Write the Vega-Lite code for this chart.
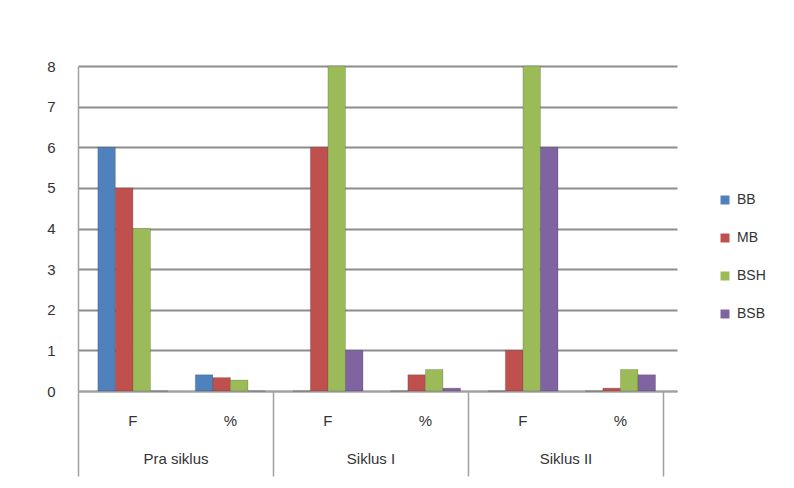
{
  "$schema": "https://vega.github.io/schema/vega-lite/v6.json",
  "width": 599,
  "height": 325,
  "autosize": {"type": "none"},
  "padding": {"left": 78, "top": 66, "right": 117, "bottom": 97},
  "background": "white",
  "config": {"font": "Liberation Sans", "view": {"stroke": null}},
  "data": {
    "values": [
      {"grp": "Pra siklus", "cat": "Pra siklus|F", "series": "BB", "value": 6},
      {"grp": "Pra siklus", "cat": "Pra siklus|F", "series": "MB", "value": 5},
      {"grp": "Pra siklus", "cat": "Pra siklus|F", "series": "BSH", "value": 4},
      {"grp": "Pra siklus", "cat": "Pra siklus|F", "series": "BSB", "value": 0},
      {"grp": "Pra siklus", "cat": "Pra siklus|%", "series": "BB", "value": 0.4},
      {"grp": "Pra siklus", "cat": "Pra siklus|%", "series": "MB", "value": 0.33},
      {"grp": "Pra siklus", "cat": "Pra siklus|%", "series": "BSH", "value": 0.27},
      {"grp": "Pra siklus", "cat": "Pra siklus|%", "series": "BSB", "value": 0},
      {"grp": "Siklus I", "cat": "Siklus I|F", "series": "BB", "value": 0},
      {"grp": "Siklus I", "cat": "Siklus I|F", "series": "MB", "value": 6},
      {"grp": "Siklus I", "cat": "Siklus I|F", "series": "BSH", "value": 8},
      {"grp": "Siklus I", "cat": "Siklus I|F", "series": "BSB", "value": 1},
      {"grp": "Siklus I", "cat": "Siklus I|%", "series": "BB", "value": 0},
      {"grp": "Siklus I", "cat": "Siklus I|%", "series": "MB", "value": 0.4},
      {"grp": "Siklus I", "cat": "Siklus I|%", "series": "BSH", "value": 0.53},
      {"grp": "Siklus I", "cat": "Siklus I|%", "series": "BSB", "value": 0.07},
      {"grp": "Siklus II", "cat": "Siklus II|F", "series": "BB", "value": 0},
      {"grp": "Siklus II", "cat": "Siklus II|F", "series": "MB", "value": 1},
      {"grp": "Siklus II", "cat": "Siklus II|F", "series": "BSH", "value": 8},
      {"grp": "Siklus II", "cat": "Siklus II|F", "series": "BSB", "value": 6},
      {"grp": "Siklus II", "cat": "Siklus II|%", "series": "BB", "value": 0},
      {"grp": "Siklus II", "cat": "Siklus II|%", "series": "MB", "value": 0.07},
      {"grp": "Siklus II", "cat": "Siklus II|%", "series": "BSH", "value": 0.53},
      {"grp": "Siklus II", "cat": "Siklus II|%", "series": "BSB", "value": 0.4}
    ]
  },
  "layer": [
    {
      "mark": {"type": "bar", "stroke": "#00000033", "strokeWidth": 0.8},
      "encoding": {
        "x": {
          "field": "cat", "type": "nominal",
          "sort": ["Pra siklus|F", "Pra siklus|%", "Siklus I|F", "Siklus I|%", "Siklus II|F", "Siklus II|%"],
          "scale": {"paddingInner": 0.28, "paddingOuter": 0.2118, "align": 0.48},
          "axis": {
            "title": null, "labelExpr": "split(datum.value, '|')[1]", "labelAngle": 0,
            "ticks": false, "labelPadding": 22, "domainColor": "#a0a0a0", "domainWidth": 1.5,
            "labelFontSize": 15, "labelColor": "#333333"
          }
        },
        "xOffset": {"field": "series", "type": "nominal", "sort": ["BB", "MB", "BSH", "BSB"]},
        "y": {
          "field": "value", "type": "quantitative",
          "scale": {"domain": [0, 8], "nice": false},
          "axis": {
            "title": null, "values": [0, 1, 2, 3, 4, 5, 6, 7, 8], "grid": true, "gridColor": "#8c8c8c",
            "gridWidth": 2, "domainColor": "#a0a0a0", "domainWidth": 1.5, "ticks": false,
            "labelPadding": 23, "labelFontSize": 15, "labelColor": "#333333"
          }
        },
        "color": {
          "field": "series", "type": "nominal", "sort": ["BB", "MB", "BSH", "BSB"],
          "scale": {"domain": ["BB", "MB", "BSH", "BSB"], "range": ["#4F81BD", "#C0504D", "#9BBB59", "#8064A2"]},
          "legend": {
            "title": null, "orient": "none", "legendX": 640, "legendY": 127,
            "symbolType": "square", "symbolSize": 81, "labelFontSize": 14, "rowPadding": 24,
            "labelColor": "#333333", "symbolStrokeWidth": 0, "labelOffset": 5
          }
        }
      }
    },
    {
      "mark": {"type": "rule", "opacity": 0},
      "encoding": {
        "x": {
          "field": "grp", "type": "nominal", "sort": ["Pra siklus", "Siklus I", "Siklus II"],
          "scale": {"type": "band", "paddingInner": 0, "paddingOuter": 0.036, "align": 0},
          "axis": {
            "orient": "bottom", "title": null, "tickBand": "extent", "tickSize": 85,
            "tickColor": "#a0a0a0", "tickWidth": 1.5, "domain": false, "labelPadding": -25,
            "labelAngle": 0, "labelFontSize": 15, "labelColor": "#333333"
          }
        },
        "y": {"field": "value", "type": "quantitative"}
      }
    }
  ],
  "resolve": {"scale": {"x": "independent"}, "axis": {"x": "independent"}}
}
